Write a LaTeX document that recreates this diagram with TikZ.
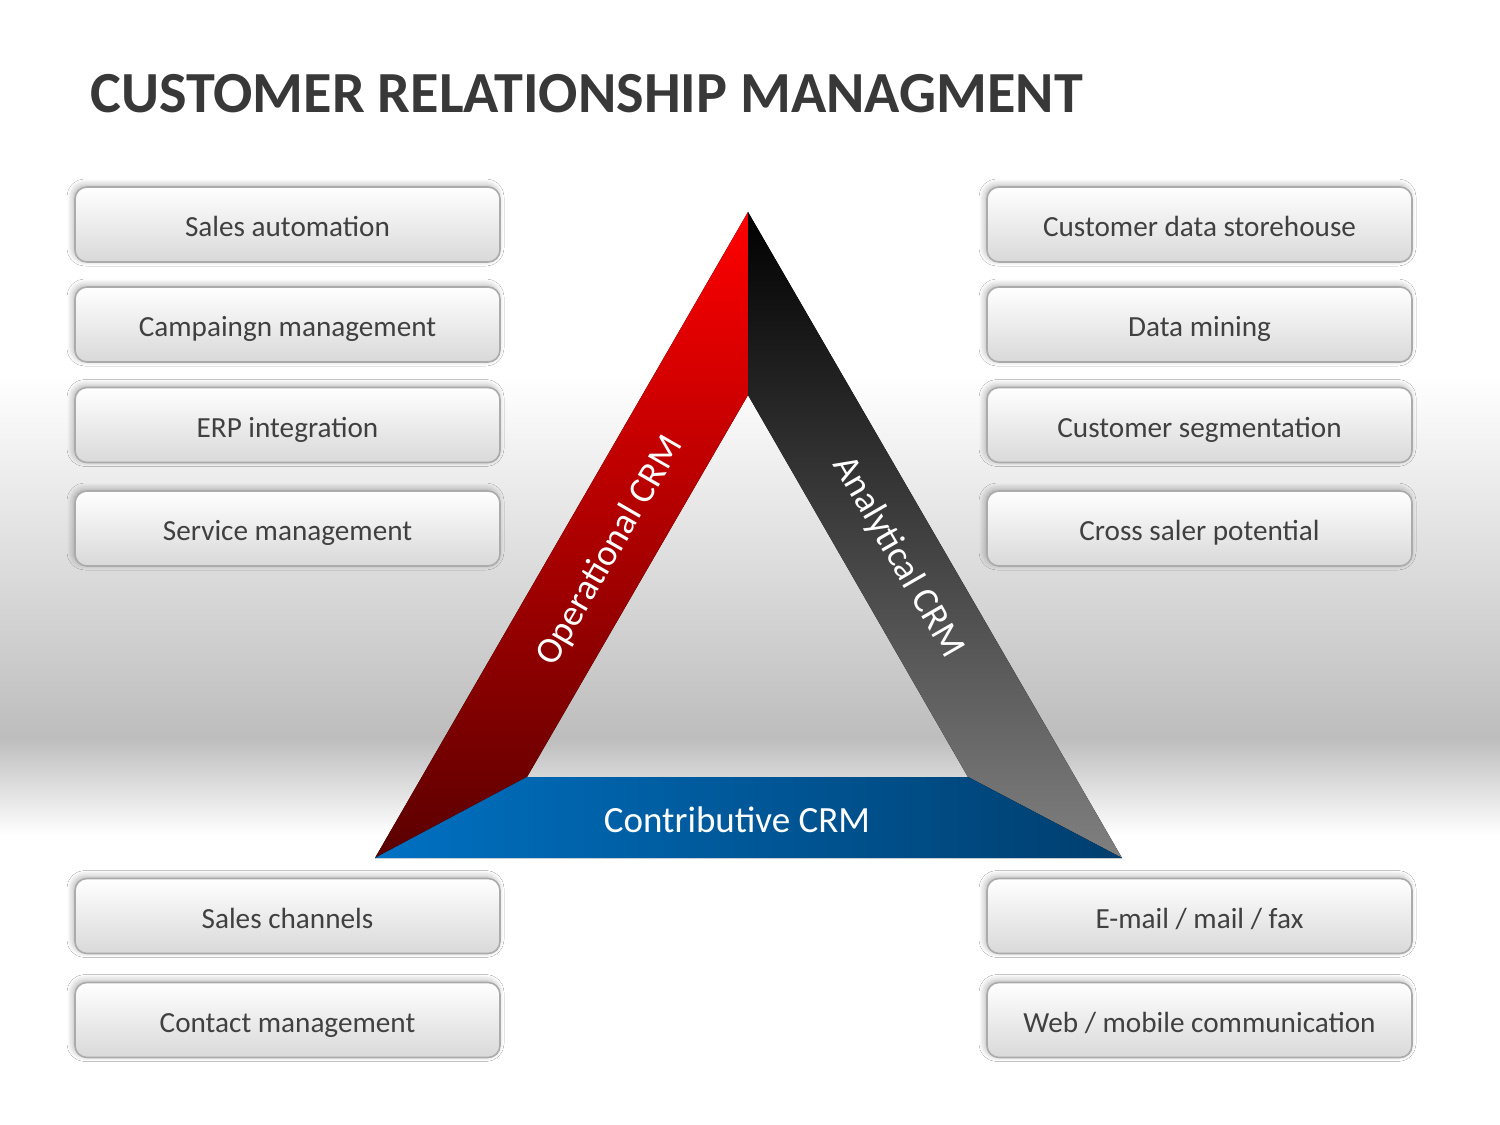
\documentclass[tikz,border=0pt]{standalone}
\usepackage{fontspec}
\setmainfont{Carlito}
\usepackage{tikz}
\usetikzlibrary{shadows.blur}
\definecolor{boxtext}{HTML}{404040}
\definecolor{titletext}{HTML}{383838}
\definecolor{bggray}{HTML}{BDBDBD}
\definecolor{opred}{HTML}{FF0000}
\definecolor{opreddark}{HTML}{5A0000}
\definecolor{angray}{HTML}{808080}
\definecolor{coblue}{HTML}{0071C2}
\definecolor{cobluedark}{HTML}{003E6E}

\begin{document}
\begin{tikzpicture}
    [x=0.5pt, y=-0.5pt,
    crmbox/.style={draw=black!33, line width=0.8pt, rounded corners=6pt,
        top color=white, bottom color=black!15,
        minimum width=212.5pt, minimum height=37.5pt,
        text=boxtext, font=\fontsize{14.6}{17}\selectfont,
        text depth=0pt, text height=12pt,
        blur shadow={shadow xshift=-1pt, shadow yshift=1pt,
            shadow blur radius=3pt, shadow blur steps=8,
            shadow opacity=30}},
    bandlabel/.style={text=white, font=\fontsize{18.5}{21}\selectfont}]

\useasboundingbox (0,0) rectangle (1500,1125);
% background
\fill[white] (0,0) rectangle (1500,1125);
\shade[top color=white, bottom color=bggray] (0,375) rectangle (1500,738);
\shade[top color=bggray, bottom color=white] (0,738) rectangle (1500,835);

\node[anchor=base west, inner sep=0pt, text=titletext,
    font=\fontsize{29.1}{34}\selectfont\bfseries] (title) at (90,112)
    {CUSTOMER RELATIONSHIP MANAGMENT};

% triangle
\coordinate (apex) at (748,212);
\coordinate (inapex) at (748,395);
\coordinate (outleft) at (375,858);
\coordinate (outright) at (1122,858);
\coordinate (inleft) at (527,777);
\coordinate (inright) at (968,777);

\fill[top color=opred, bottom color=opreddark]
    (apex) -- (outleft) -- (inleft) -- (inapex) -- cycle;
\fill[top color=black, bottom color=angray]
    (apex) -- (inapex) -- (inright) -- (outright) -- cycle;
\fill[left color=coblue, right color=cobluedark]
    (outleft) -- (inleft) -- (inright) -- (outright) -- cycle;

\node[bandlabel, rotate=60] (operational) at (610,551) {Operational CRM};
\node[bandlabel, rotate=-60] (analytical) at (898,557) {Analytical CRM};
\node[bandlabel] (contributive) at (737,820) {Contributive CRM};

% operational boxes
\node[crmbox] (salesauto) at (287.5,224.5) {Sales automation};
\node[crmbox] (campaign) at (287.5,324.5) {Campaingn management};
\node[crmbox] (erp) at (287.5,425) {ERP integration};
\node[crmbox] (service) at (287.5,528.5) {Service management};

% analytical boxes
\node[crmbox] (storehouse) at (1199.5,224.5) {Customer data storehouse};
\node[crmbox] (mining) at (1199.5,324.5) {Data mining};
\node[crmbox] (segment) at (1199.5,425) {Customer segmentation};
\node[crmbox] (crosssale) at (1199.5,528.5) {Cross saler potential};

% contributive boxes
\node[crmbox] (channels) at (287.5,916) {Sales channels};
\node[crmbox] (contact) at (287.5,1020) {Contact management};
\node[crmbox] (email) at (1199.5,916) {E-mail / mail / fax};
\node[crmbox] (webmobile) at (1199.5,1020) {Web / mobile communication};
\end{tikzpicture}
\end{document}
